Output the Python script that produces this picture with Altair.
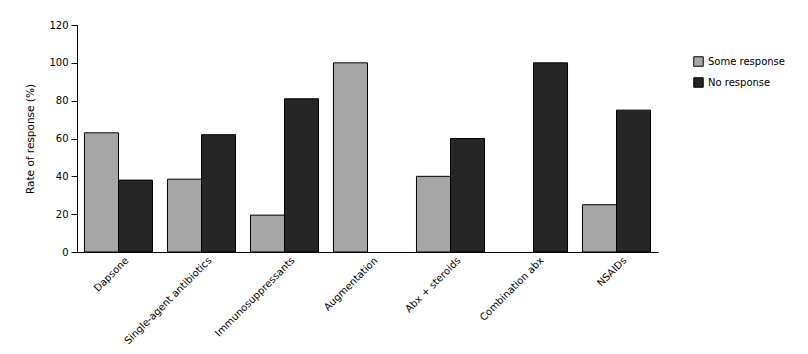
import altair as alt
import pandas as pd

categories = ["Dapsone", "Single-agent antibiotics", "Immunosuppressants", "Augmentation",
              "Abx + steroids", "Combination abx", "NSAIDs"]
some_response = [63, 38.5, 19.5, 100, 40, 0, 25]
no_response = [38, 62, 81, 0, 60, 100, 75]
series = ["Some response", "No response"]
colors = ["#a6a6a6", "#262626"]

rows = []
for c, s, n in zip(categories, some_response, no_response):
    rows.append({"cat": c, "series": series[0], "value": s})
    rows.append({"cat": c, "series": series[1], "value": n})
df = pd.DataFrame(rows)

FONT = "DejaVu Sans"

chart = alt.Chart(df).mark_bar(stroke="black", strokeWidth=1).encode(
    x=alt.X("cat:N", sort=categories, title=None,
            scale=alt.Scale(paddingInner=0.18, paddingOuter=0.09),
            axis=alt.Axis(labelAngle=-45, ticks=False, domainColor="black",
                          labelFont=FONT, labelFontSize=10, labelColor="black",
                          labelPadding=3, labelOffset=5, labelLimit=300)),
    xOffset=alt.XOffset("series:N", sort=series),
    y=alt.Y("value:Q", title="Rate of response (%)",
            scale=alt.Scale(domain=[0, 120]),
            axis=alt.Axis(values=[0, 20, 40, 60, 80, 100, 120], grid=False,
                          tickSize=6, tickColor="black", domainColor="black",
                          labelFont=FONT, labelFontSize=10, labelColor="black",
                          labelPadding=3,
                          titleFont=FONT, titleFontSize=10.5, titleFontWeight="normal",
                          titleColor="black", titlePadding=13)),
    color=alt.Color("series:N", sort=series,
                    scale=alt.Scale(domain=series, range=colors),
                    legend=alt.Legend(title=None, orient="none", legendX=616, legendY=31,
                                      symbolType="square", symbolSize=90,
                                      symbolStrokeColor="black", symbolStrokeWidth=1,
                                      labelFont=FONT, labelFontSize=10, labelColor="black",
                                      labelOffset=4, rowPadding=6)),
    opacity=alt.condition(alt.datum.value > 0, alt.value(1), alt.value(0)),
).properties(
    width=581, height=227,
    autosize=alt.AutoSizeParams(type="none"),
    padding={"left": 77, "top": 25, "right": 150, "bottom": 102},
).configure(background="white").configure_view(stroke=None)

chart.save("out.html", embed_options={"renderer": "svg", "actions": False})
